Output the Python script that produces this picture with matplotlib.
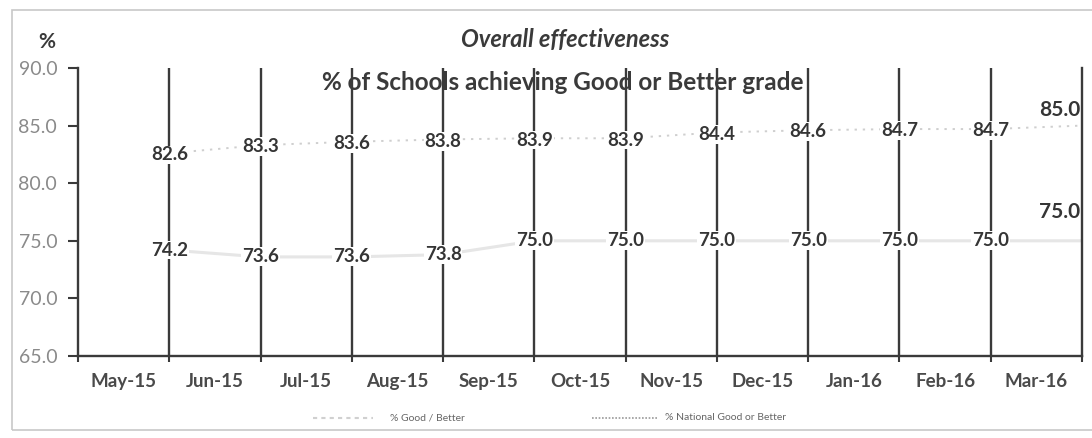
import matplotlib
matplotlib.use("Agg")
import matplotlib.pyplot as plt
from matplotlib.patches import Rectangle
from matplotlib.lines import Line2D

months = ["May-15", "Jun-15", "Jul-15", "Aug-15", "Sep-15", "Oct-15",
          "Nov-15", "Dec-15", "Jan-16", "Feb-16", "Mar-16"]
national = [82.6, 83.3, 83.6, 83.8, 83.9, 83.9, 84.4, 84.6, 84.7, 84.7, 85.0]
good_better = [74.2, 73.6, 73.6, 73.8, 75.0, 75.0, 75.0, 75.0, 75.0, 75.0, 75.0]
yticks = [65.0, 70.0, 75.0, 80.0, 85.0, 90.0]
series_names = ["% Good / Better", "% National Good or Better"]

plt.rcParams['font.family'] = ['Lato', 'DejaVu Sans']

W, H = 1092, 438
fig = plt.figure(figsize=(W / 100, H / 100), dpi=100)
ax = fig.add_axes([78 / W, 1 - 356 / H, (1082 - 78) / W, (356 - 68) / H])

n = len(months)
xs = [i + 0.5 for i in range(n)]
dark = "#3a3a3a"

# faint series lines
ax.plot(xs, good_better, color="#e6e6e6", lw=2.2, solid_capstyle="butt", zorder=1)
ax.plot(xs, national, color="#cfcfcf", lw=1.4, ls=(0, (1.2, 3)), zorder=1)

# dark vertical category dividers
for i in range(n - 1):
    ax.axvline(i + 0.5, color=dark, lw=1.7, zorder=2)

ax.set_xlim(-0.5, n - 0.5)
ax.set_ylim(65, 90)
ax.set_yticks(yticks)
ax.set_yticklabels([f"{v:.1f}" for v in yticks], color="#8a8a8a", fontsize=14)
ax.set_xticks(range(n))
ax.set_xticklabels(months, fontsize=13.5, fontweight="bold", color="#4a4a4a")
ax.tick_params(axis="x", length=0, pad=12)
ax.set_xticks([i + 0.5 for i in range(-1, n)], minor=True)
ax.tick_params(axis="x", which="minor", length=4, width=1.5, color=dark, direction="out")
ax.tick_params(axis="y", length=7, width=1.5, color=dark, pad=8)

ax.spines["top"].set_visible(False)
for s in ["left", "bottom", "right"]:
    ax.spines[s].set_color(dark)
    ax.spines[s].set_linewidth(1.7)

# data labels
lbl = dict(fontsize=13.5, fontweight="bold", color="#353535", ha="center", va="center",
           zorder=3, bbox=dict(boxstyle="square,pad=0.05", fc="white", ec="none"))
for i in range(n - 1):
    ax.text(xs[i], national[i] - 0.15, f"{national[i]:.1f}", **lbl)
    ax.text(xs[i], good_better[i], f"{good_better[i]:.1f}", **lbl)
ax.annotate(f"{national[-1]:.1f}", (xs[-1], national[-1]), xytext=(-1, 11),
            textcoords="offset points", ha="right", va="center", fontsize=15,
            fontweight="bold", color="#353535", annotation_clip=False, zorder=3)
ax.annotate(f"{good_better[-1]:.1f}", (xs[-1], good_better[-1]), xytext=(-1, 21),
            textcoords="offset points", ha="right", va="center", fontsize=15,
            fontweight="bold", color="#353535", annotation_clip=False, zorder=3)

# titles
fig.text(565 / W, 1 - 40 / H, "Overall effectiveness", ha="center", va="center",
         fontsize=17, fontweight="bold", fontstyle="italic", color="#3a3a3a")
fig.text(563 / W, 1 - 83 / H, "% of Schools achieving Good or Better grade", ha="center",
         va="center", fontsize=17.5, fontweight="bold", color="#3a3a3a")
fig.text(47 / W, 1 - 42 / H, "%", ha="center", va="center", fontsize=15,
         fontweight="bold", color="#3a3a3a")

# legend
ly = 1 - 418 / H
fig.add_artist(Line2D([313 / W, 373 / W], [ly, ly], color="#d0d0d0", lw=1.5,
                      ls=(0, (2, 2))))
fig.text(390 / W, ly, series_names[0], fontsize=7.5, color="#666666", va="center")
fig.add_artist(Line2D([592 / W, 658 / W], [ly, ly], color="#999999", lw=1.2,
                      ls=(0, (1, 1))))
fig.text(665 / W, ly, series_names[1], fontsize=7.5, color="#666666", va="center")

# outer frame
fig.add_artist(Rectangle((12 / W, 1 - 430 / H), (1098 - 12) / W, (430 - 10) / H,
                         transform=fig.transFigure, fill=False, ec="#c8c8c8", lw=1.2))

fig.savefig("out.png", dpi=100)
